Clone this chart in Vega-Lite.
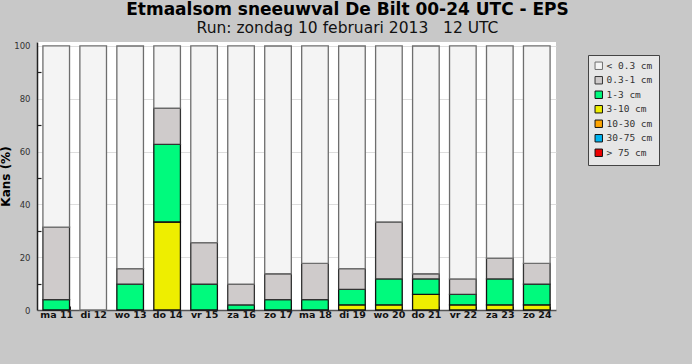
{
  "$schema": "https://vega.github.io/schema/vega-lite/v6.json",
  "width": 519,
  "height": 268,
  "autosize": {"type": "none"},
  "padding": {"left": 37, "top": 42, "right": 136, "bottom": 54},
  "background": "#c8c8c8",
  "view": {"fill": "#ffffff", "stroke": null},
  "title": {
    "text": "Etmaalsom sneeuwval De Bilt 00-24 UTC - EPS",
    "subtitle": "Run: zondag 10 februari 2013\u00a0\u00a0\u00a012 UTC",
    "anchor": "middle",
    "frame": "group",
    "dx": 51,
    "offset": 4,
    "font": "DejaVu Sans",
    "fontSize": 17,
    "fontWeight": "bold",
    "color": "#000000",
    "subtitleFont": "DejaVu Sans",
    "subtitleFontSize": 15.5,
    "subtitleColor": "#111111",
    "subtitlePadding": 2
  },
  "data": {
    "values": [
      {"day": "ma 11", "cat": "1-3 cm", "rank": 5, "pct": 3.92},
      {"day": "ma 11", "cat": "0.3-1 cm", "rank": 6, "pct": 27.45},
      {"day": "ma 11", "cat": "< 0.3 cm", "rank": 7, "pct": 68.63},
      {"day": "di 12", "cat": "< 0.3 cm", "rank": 7, "pct": 100},
      {"day": "wo 13", "cat": "1-3 cm", "rank": 5, "pct": 9.80},
      {"day": "wo 13", "cat": "0.3-1 cm", "rank": 6, "pct": 5.88},
      {"day": "wo 13", "cat": "< 0.3 cm", "rank": 7, "pct": 84.31},
      {"day": "do 14", "cat": "3-10 cm", "rank": 4, "pct": 33.33},
      {"day": "do 14", "cat": "1-3 cm", "rank": 5, "pct": 29.41},
      {"day": "do 14", "cat": "0.3-1 cm", "rank": 6, "pct": 13.73},
      {"day": "do 14", "cat": "< 0.3 cm", "rank": 7, "pct": 23.53},
      {"day": "vr 15", "cat": "1-3 cm", "rank": 5, "pct": 9.80},
      {"day": "vr 15", "cat": "0.3-1 cm", "rank": 6, "pct": 15.69},
      {"day": "vr 15", "cat": "< 0.3 cm", "rank": 7, "pct": 74.51},
      {"day": "za 16", "cat": "1-3 cm", "rank": 5, "pct": 1.96},
      {"day": "za 16", "cat": "0.3-1 cm", "rank": 6, "pct": 7.84},
      {"day": "za 16", "cat": "< 0.3 cm", "rank": 7, "pct": 90.20},
      {"day": "zo 17", "cat": "1-3 cm", "rank": 5, "pct": 3.92},
      {"day": "zo 17", "cat": "0.3-1 cm", "rank": 6, "pct": 9.80},
      {"day": "zo 17", "cat": "< 0.3 cm", "rank": 7, "pct": 86.27},
      {"day": "ma 18", "cat": "1-3 cm", "rank": 5, "pct": 3.92},
      {"day": "ma 18", "cat": "0.3-1 cm", "rank": 6, "pct": 13.73},
      {"day": "ma 18", "cat": "< 0.3 cm", "rank": 7, "pct": 82.35},
      {"day": "di 19", "cat": "3-10 cm", "rank": 4, "pct": 1.96},
      {"day": "di 19", "cat": "1-3 cm", "rank": 5, "pct": 5.88},
      {"day": "di 19", "cat": "0.3-1 cm", "rank": 6, "pct": 7.84},
      {"day": "di 19", "cat": "< 0.3 cm", "rank": 7, "pct": 84.31},
      {"day": "wo 20", "cat": "3-10 cm", "rank": 4, "pct": 1.96},
      {"day": "wo 20", "cat": "1-3 cm", "rank": 5, "pct": 9.80},
      {"day": "wo 20", "cat": "0.3-1 cm", "rank": 6, "pct": 21.57},
      {"day": "wo 20", "cat": "< 0.3 cm", "rank": 7, "pct": 66.67},
      {"day": "do 21", "cat": "3-10 cm", "rank": 4, "pct": 5.88},
      {"day": "do 21", "cat": "1-3 cm", "rank": 5, "pct": 5.88},
      {"day": "do 21", "cat": "0.3-1 cm", "rank": 6, "pct": 1.96},
      {"day": "do 21", "cat": "< 0.3 cm", "rank": 7, "pct": 86.27},
      {"day": "vr 22", "cat": "3-10 cm", "rank": 4, "pct": 1.96},
      {"day": "vr 22", "cat": "1-3 cm", "rank": 5, "pct": 3.92},
      {"day": "vr 22", "cat": "0.3-1 cm", "rank": 6, "pct": 5.88},
      {"day": "vr 22", "cat": "< 0.3 cm", "rank": 7, "pct": 88.24},
      {"day": "za 23", "cat": "3-10 cm", "rank": 4, "pct": 1.96},
      {"day": "za 23", "cat": "1-3 cm", "rank": 5, "pct": 9.80},
      {"day": "za 23", "cat": "0.3-1 cm", "rank": 6, "pct": 7.84},
      {"day": "za 23", "cat": "< 0.3 cm", "rank": 7, "pct": 80.40},
      {"day": "zo 24", "cat": "3-10 cm", "rank": 4, "pct": 1.96},
      {"day": "zo 24", "cat": "1-3 cm", "rank": 5, "pct": 7.84},
      {"day": "zo 24", "cat": "0.3-1 cm", "rank": 6, "pct": 7.84},
      {"day": "zo 24", "cat": "< 0.3 cm", "rank": 7, "pct": 82.36}
    ]
  },
  "resolve": {"axis": {"y": "independent"}},
  "layer": [
    {
      "mark": {"type": "bar", "strokeWidth": 1.3},
      "encoding": {
        "x": {
          "field": "day",
          "type": "nominal",
          "sort": null,
          "scale": {"paddingInner": 0.28, "paddingOuter": 0.16},
          "axis": {
            "title": null,
            "labelAngle": 0,
            "labelFont": "DejaVu Sans",
            "labelFontSize": 9.5,
            "labelFontWeight": "bold",
            "labelColor": "#111111",
            "labelPadding": 3,
            "domainColor": "#555555",
            "domainWidth": 1.5,
            "tickBand": "extent",
            "tickSize": -4,
            "tickColor": "#222222",
            "grid": false
          }
        },
        "y": {
          "field": "pct",
          "type": "quantitative",
          "stack": "zero",
          "scale": {"domain": [0, 101.5], "nice": false},
          "axis": {
            "orient": "left",
            "title": "Kans (%)",
            "titleFont": "DejaVu Sans",
            "titleFontSize": 12,
            "titleFontWeight": "bold",
            "titleColor": "#000000",
            "titlePadding": 1,
            "values": [0, 20, 40, 60, 80, 100],
            "labelFont": "DejaVu Sans",
            "labelFontSize": 8.5,
            "labelColor": "#333333",
            "labelPadding": 7,
            "ticks": false,
            "domainColor": "#222222",
            "domainWidth": 1.5,
            "grid": true,
            "gridColor": "#dddddd",
            "gridWidth": 1
          }
        },
        "order": {"field": "rank", "type": "quantitative"},
        "color": {
          "field": "cat",
          "type": "nominal",
          "scale": {
            "domain": ["< 0.3 cm", "0.3-1 cm", "1-3 cm", "3-10 cm", "10-30 cm", "30-75 cm", "> 75 cm"],
            "range": ["#f4f4f4", "#cfcbcb", "#00fa7d", "#eeee00", "#ffa500", "#00b4f0", "#ee0000"]
          },
          "legend": {
            "title": null,
            "orient": "none",
            "legendX": 551,
            "legendY": 13,
            "fillColor": "#e6e6e6",
            "strokeColor": "#444444",
            "padding": 6,
            "symbolType": "square",
            "symbolSize": 55,
            "symbolStrokeColor": "#000000",
            "symbolStrokeWidth": 1,
            "symbolOpacity": 1,
            "labelFont": "DejaVu Sans Mono",
            "labelFontSize": 9.5,
            "labelColor": "#333333",
            "labelOffset": 3,
            "rowPadding": 2.5
          }
        },
        "stroke": {
          "field": "cat",
          "type": "nominal",
          "scale": {
            "domain": ["< 0.3 cm", "0.3-1 cm", "1-3 cm", "3-10 cm", "10-30 cm", "30-75 cm", "> 75 cm"],
            "range": ["#6e6e6e", "#333333", "#111111", "#111111", "#111111", "#111111", "#111111"]
          },
          "legend": null
        }
      }
    },
    {
      "mark": {"type": "bar", "opacity": 0},
      "encoding": {
        "x": {"field": "day", "type": "nominal", "sort": null},
        "y": {
          "field": "pct",
          "type": "quantitative",
          "stack": "zero",
          "axis": {
            "orient": "left",
            "title": null,
            "values": [10, 30, 50, 70, 90],
            "labels": false,
            "domain": false,
            "grid": false,
            "tickSize": -4,
            "tickColor": "#222222",
            "tickWidth": 1.2
          }
        },
        "order": {"field": "rank", "type": "quantitative"}
      }
    }
  ]
}
